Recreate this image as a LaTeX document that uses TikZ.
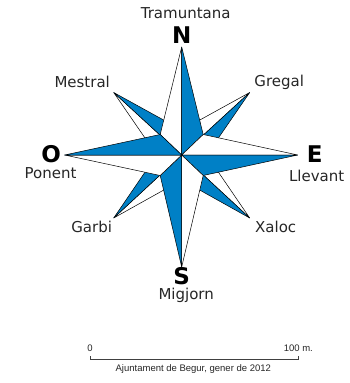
\documentclass[tikz,border=0pt]{standalone}
\usepackage{fontspec}
\setmainfont{DejaVu Sans}
\newfontfamily\notefont{Liberation Sans}
\usetikzlibrary{positioning}
\definecolor{roseblue}{RGB}{0,128,198}

\begin{document}
\begin{tikzpicture}[
    x=1pt, y=1pt,
    blade/.style={draw=black, line width=0.5pt, line join=round},
    lit/.style={blade, fill=roseblue},
    blank/.style={blade, fill=white},
    cardinal/.style={font=\fontsize{23}{23}\selectfont\bfseries, inner sep=0pt},
    wind/.style={font=\fontsize{15}{16}\selectfont, text=black!85, inner sep=0pt},
    note/.style={font=\notefont\fontsize{9.5}{10}\selectfont, text=black!85, inner sep=0pt}
]
  \useasboundingbox (-181.7,-228) rectangle (168.3,155);

  % Rose points
  \coordinate (c) at (0,0);
  \coordinate (n) at (0,108);
  \coordinate (e) at (116,0);
  \coordinate (s) at (0,-112);
  \coordinate (w) at (-117,0);
  \coordinate (ne) at (68,62.5);
  \coordinate (se) at (68,-63);
  \coordinate (sw) at (-68,-63);
  \coordinate (nw) at (-68,62.5);
  % inner points of the small star (on the axes)
  \coordinate (in) at (0,25);
  \coordinate (ie) at (25,0);
  \coordinate (is) at (0,-25);
  \coordinate (iw) at (-25,0);
  % shoulders of the big star (on the diagonals)
  \coordinate (sne) at (21.5,20.5);
  \coordinate (sse) at (21.5,-20.5);
  \coordinate (ssw) at (-21.5,-20.5);
  \coordinate (snw) at (-21.5,20.5);

  % Small star (behind)
  \filldraw[blank] (c) -- (ne) -- (in) -- cycle;
  \filldraw[lit]   (c) -- (ne) -- (ie) -- cycle;
  \filldraw[blank] (c) -- (se) -- (ie) -- cycle;
  \filldraw[lit]   (c) -- (se) -- (is) -- cycle;
  \filldraw[blank] (c) -- (sw) -- (is) -- cycle;
  \filldraw[lit]   (c) -- (sw) -- (iw) -- cycle;
  \filldraw[blank] (c) -- (nw) -- (iw) -- cycle;
  \filldraw[lit]   (c) -- (nw) -- (in) -- cycle;

  % Big star (front)
  \filldraw[blank] (c) -- (n) -- (snw) -- cycle;
  \filldraw[lit]   (c) -- (n) -- (sne) -- cycle;
  \filldraw[blank] (c) -- (e) -- (sne) -- cycle;
  \filldraw[lit]   (c) -- (e) -- (sse) -- cycle;
  \filldraw[blank] (c) -- (s) -- (sse) -- cycle;
  \filldraw[lit]   (c) -- (s) -- (ssw) -- cycle;
  \filldraw[blank] (c) -- (w) -- (ssw) -- cycle;
  \filldraw[lit]   (c) -- (w) -- (snw) -- cycle;

  % Cardinal letters
  \node[cardinal] (N) at (0,120) {N};
  \node[cardinal] (E) at (133,0.5) {E};
  \node[cardinal] (S) at (0,-121) {S};
  \node[cardinal] (O) at (-130.5,0.5) {O};

  % Wind names
  \node[wind] (tram) at (4,142.3) {Tramuntana};
  \node[wind] (greg) at (97.5,72.7) {Gregal};
  \node[wind] (llev) at (135,-20.5) {Llevant};
  \node[wind] (xal) at (94,-72.3) {Xaloc};
  \node[wind] (mig) at (4.5,-140) {Migjorn};
  \node[wind] (garb) at (-90,-72.3) {Garbi};
  \node[wind] (pon) at (-131.2,-18.5) {Ponent};
  \node[wind] (mest) at (-99.5,72.7) {Mestral};

  % Scale bar
  \coordinate (bar0) at (-91.7,-204.3);
  \coordinate (bar1) at (116.6,-204.3);
  \draw[line width=0.6pt, draw=black!75] (bar0) ++(0,3) -- (bar0) -- (bar1) -- ++(0,3);
  \node[note, above=7.5pt of bar0] (zero) {0};
  \node[note, above=7.5pt of bar1] (hund) {100 m.};
  \node[note] (credit) at (11.6,-214.5) {Ajuntament de Begur, gener de 2012};

\end{tikzpicture}
\end{document}
